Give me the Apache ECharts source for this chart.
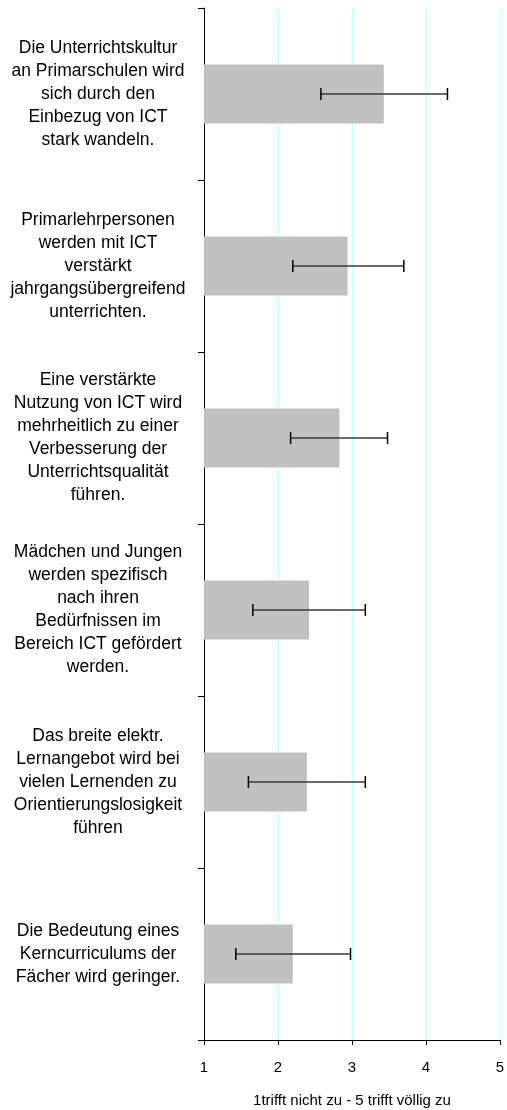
<!DOCTYPE html>
<html>
<head>
<meta charset="utf-8">
<script src="https://cdn.jsdelivr.net/npm/echarts@6/dist/echarts.min.js"></script>
<style>
  html, body { margin: 0; padding: 0; background: #fff; }
  #main { width: 507px; height: 1110px; }
</style>
</head>
<body>
<div id="main"></div>
<script>
// Aussagen (Kategorien)
var categories = [
  "Die Unterrichtskultur\nan Primarschulen wird\nsich durch den\nEinbezug von ICT\nstark wandeln.",
  "Primarlehrpersonen\nwerden mit ICT\nverstärkt\njahrgangsübergreifend\nunterrichten.",
  "Eine verstärkte\nNutzung von ICT wird\nmehrheitlich zu einer\nVerbesserung der\nUnterrichtsqualität\nführen.",
  "Mädchen und Jungen\nwerden spezifisch\nnach ihren\nBedürfnissen im\nBereich ICT gefördert\nwerden.",
  "Das breite elektr.\nLernangebot wird bei\nvielen Lernenden zu\nOrientierungslosigkeit\nführen",
  "Die Bedeutung eines\nKerncurriculums der\nFächer wird geringer."
];
// Mittelwerte
var means = [3.43, 2.94, 2.83, 2.42, 2.39, 2.20];
// Fehlerbalken (untere / obere Grenze)
var lower = [2.58, 2.20, 2.17, 1.66, 1.60, 1.43];
var upper = [4.29, 3.70, 3.48, 3.18, 3.18, 2.98];
var xTicks = [1, 2, 3, 4, 5];

var errData = [];
categories.forEach(function (c, i) {
  errData.push([i, lower[i], upper[i]]);
});

var myChart = echarts.init(document.getElementById("main"), null, { renderer: "canvas" });
var font = "'Liberation Sans', Arial, sans-serif";

var option = {
  animation: false,
  grid: { left: 204, right: 7, top: 8, bottom: 70, outerBoundsMode: "none", containLabel: false },
  xAxis: {
    type: "value",
    min: xTicks[0],
    max: xTicks[xTicks.length - 1],
    interval: 1,
    name: "1trifft nicht zu - 5 trifft völlig zu",
    nameLocation: "middle",
    nameGap: 53,
    nameTextStyle: { color: "#000", fontSize: 15, fontFamily: font },
    axisLine: { show: true, lineStyle: { color: "#000", width: 1 } },
    axisTick: { show: true, length: 5, lineStyle: { color: "#000" } },
    axisLabel: { color: "#000", fontSize: 15, fontFamily: font, margin: 20 },
    splitLine: { show: true, lineStyle: { color: "#c4ffff", width: 1 } }
  },
  yAxis: {
    type: "category",
    data: categories,
    inverse: true,
    axisLine: { show: true, lineStyle: { color: "#000", width: 1 } },
    axisTick: { show: true, length: 6, alignWithLabel: false, lineStyle: { color: "#000" } },
    axisLabel: {
      color: "#000",
      fontSize: 17.5,
      fontFamily: font,
      lineHeight: 23,
      align: "center",
      margin: 106,
      interval: 0
    },
    splitLine: { show: false }
  },
  series: [
    {
      type: "bar",
      data: means,
      barWidth: 59,
      itemStyle: { color: "#c0c0c0" }
    },
    {
      type: "custom",
      data: errData,
      encode: { x: [1, 2], y: 0 },
      renderItem: function (params, api) {
        var cat = api.value(0);
        var p1 = api.coord([api.value(1), cat]);
        var p2 = api.coord([api.value(2), cat]);
        var cap = 6;
        var line = { stroke: "#3a3a3a", lineWidth: 1.6 };
        var end = { stroke: "#000", lineWidth: 1.5 };
        return {
          type: "group",
          children: [
            { type: "line", shape: { x1: p1[0], y1: p1[1], x2: p2[0], y2: p2[1] }, style: line },
            { type: "line", shape: { x1: p1[0], y1: p1[1] - cap, x2: p1[0], y2: p1[1] + cap }, style: end },
            { type: "line", shape: { x1: p2[0], y1: p2[1] - cap, x2: p2[0], y2: p2[1] + cap }, style: end }
          ]
        };
      },
      z: 5
    }
  ]
};

myChart.setOption(option);
window.addEventListener("resize", myChart.resize);
</script>
</body>
</html>
